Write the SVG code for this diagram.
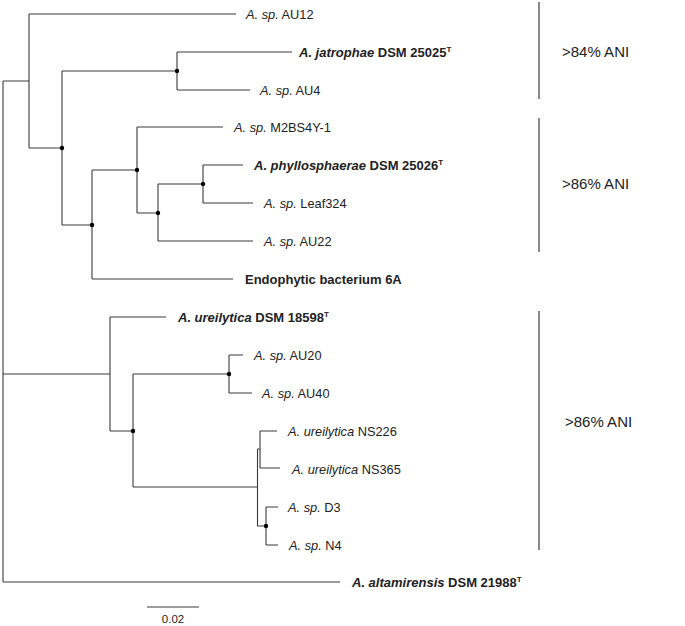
<svg xmlns="http://www.w3.org/2000/svg" width="685" height="626" viewBox="0 0 685 626">
<style>
.br{fill:none;stroke:#3a3a3a;stroke-width:1.1}
.bk{fill:none;stroke:#4a4a4a;stroke-width:1.3}
.dot{fill:#000}
text{font-family:"Liberation Sans",Arial,sans-serif;font-size:12.8px;fill:#222}
.b{font-weight:bold;font-size:13px}
.i{font-style:italic}
.sup{font-size:8px}
.ani{font-size:15px}
.sc{font-size:11.5px}
</style>
<rect width="685" height="626" fill="#fff"/>
<g id="connectors">
<path class="br" d="M3,81V582M3,81H29M29,14V148M29,14H236M29,148H62"/>
<path class="br" d="M62,71V225M62,71H177M177,52V90M177,52H292M177,90H250"/>
<path class="br" d="M62,225H92M92,170V279M92,170H137M92,279H233"/>
<path class="br" d="M137,127V213M137,127H223M137,213H158M158,184V241M158,241H253"/>
<path class="br" d="M158,184H203M203,165V203M203,165H243M203,203H253"/>
<path class="br" d="M3,374H110M110,317V431M110,317H166M110,431H133"/>
<path class="br" d="M133,374V487M133,374H229M229,355V393M229,355H243M229,393H252M133,487H257.5"/>
<path class="br" d="M257.5,449V526M257.5,449H260M260,431V468M260,431H277M260,468H280"/>
<path class="br" d="M257.5,526H266M266,507V545M266,507H278M266,545H278"/>
<path class="br" d="M3,582H340"/>
</g>
<g id="support-dots">
<circle class="dot" cx="62" cy="148" r="2.2"/>
<circle class="dot" cx="177" cy="71" r="2.2"/>
<circle class="dot" cx="92" cy="225" r="2.2"/>
<circle class="dot" cx="137" cy="170" r="2.2"/>
<circle class="dot" cx="158" cy="213" r="2.2"/>
<circle class="dot" cx="203" cy="184" r="2.2"/>
<circle class="dot" cx="133" cy="431" r="2.2"/>
<circle class="dot" cx="229" cy="374" r="2.2"/>
<circle class="dot" cx="266" cy="526" r="2.2"/>
</g>
<g id="tip-AU12"><text x="246" y="18.5"><tspan class="i">A. sp.</tspan> AU12</text></g>
<g id="tip-jatrophae"><text class="b" x="299" y="56.5"><tspan class="i">A. jatrophae</tspan> DSM 25025<tspan class="sup" dy="-5">T</tspan></text></g>
<g id="tip-AU4"><text x="260" y="94.5"><tspan class="i">A. sp.</tspan> AU4</text></g>
<g id="tip-M2BS4Y-1"><text x="234" y="131.5"><tspan class="i">A. sp.</tspan> M2BS4Y-1</text></g>
<g id="tip-phyllosphaerae"><text class="b" x="254" y="169.5"><tspan class="i">A. phyllosphaerae</tspan> DSM 25026<tspan class="sup" dy="-5">T</tspan></text></g>
<g id="tip-Leaf324"><text x="264" y="207.5"><tspan class="i">A. sp.</tspan> Leaf324</text></g>
<g id="tip-AU22"><text x="264" y="245.5"><tspan class="i">A. sp.</tspan> AU22</text></g>
<g id="tip-6A"><text class="b" x="245" y="283.5">Endophytic bacterium 6A</text></g>
<g id="tip-ureilytica"><text class="b" x="178" y="321.5"><tspan class="i">A. ureilytica</tspan> DSM 18598<tspan class="sup" dy="-5">T</tspan></text></g>
<g id="tip-AU20"><text x="254" y="359.5"><tspan class="i">A. sp.</tspan> AU20</text></g>
<g id="tip-AU40"><text x="262" y="397.5"><tspan class="i">A. sp.</tspan> AU40</text></g>
<g id="tip-NS226"><text x="288" y="435.5"><tspan class="i">A. ureilytica</tspan> NS226</text></g>
<g id="tip-NS365"><text x="292" y="473.5"><tspan class="i">A. ureilytica</tspan> NS365</text></g>
<g id="tip-D3"><text x="288" y="511.5"><tspan class="i">A. sp.</tspan> D3</text></g>
<g id="tip-N4"><text x="289" y="549.5"><tspan class="i">A. sp.</tspan> N4</text></g>
<g id="tip-altamirensis"><text class="b" x="352" y="586.5"><tspan class="i">A. altamirensis</tspan> DSM 21988<tspan class="sup" dy="-5">T</tspan></text></g>
<g id="bracket-84">
<line class="bk" x1="539" y1="2" x2="539" y2="99"/>
<text class="ani" x="562" y="57">&gt;84% ANI</text>
</g>
<g id="bracket-86a">
<line class="bk" x1="539" y1="118" x2="539" y2="252"/>
<text class="ani" x="562" y="189">&gt;86% ANI</text>
</g>
<g id="bracket-86b">
<line class="bk" x1="539" y1="311" x2="539" y2="550"/>
<text class="ani" x="565" y="427">&gt;86% ANI</text>
</g>
<g id="scale-bar">
<line class="br" x1="147" y1="607" x2="199" y2="607"/>
<text class="sc" x="173" y="623" text-anchor="middle">0.02</text>
</g>
</svg>
